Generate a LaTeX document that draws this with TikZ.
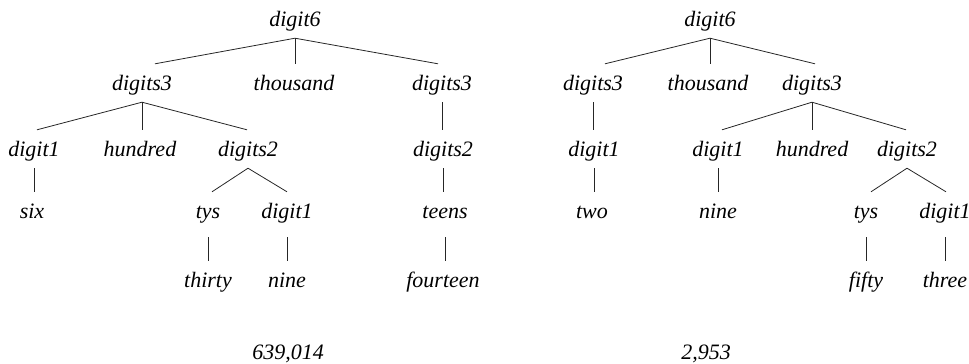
\documentclass[tikz,border=0pt]{standalone}
\usepackage{fontspec}
\setmainfont{Liberation Serif}
\tikzset{
  lbl/.style={anchor=base, inner sep=0pt, text height=26pt, text depth=12pt,
              font=\fontsize{22}{26}\selectfont\itshape},
  deep/.style={text depth=19pt},
  br/.style={line width=0.8pt, draw=black!85}
}
\newcommand{\vedge}[2]{\draw[br] (#1.south) -- (#1.south |- #2.north);}
\newcommand{\sedge}[3]{\draw[br] (#1.south) -- ([xshift=#3pt]#2.north);}
\begin{document}
\begin{tikzpicture}[x=1pt,y=-1pt]
\useasboundingbox (0,0) rectangle (969,364);
% ---------- left tree ----------
\node[lbl] (L) at (295,26) {digit6};
\node[lbl] (La) at (142,90) {digits3};
\node[lbl] (Lb) at (294,90) {thousand};
\node[lbl] (Lc) at (442,90) {digits3};
\node[lbl] (Laa) at (34,156) {digit1};
\node[lbl] (Lab) at (140,156) {hundred};
\node[lbl] (Lac) at (248,156) {digits2};
\node[lbl] (Lca) at (443,156) {digits2};
\node[lbl] (Laaa) at (32,218) {six};
\node[lbl,deep] (Laca) at (208,218) {tys};
\node[lbl,deep] (Lacb) at (287,218) {digit1};
\node[lbl,deep] (Lcaa) at (445,218) {teens};
\node[lbl] (Lacaa) at (208,287) {thirty};
\node[lbl] (Lacba) at (287,287) {nine};
\node[lbl] (Lcaaa) at (443,287) {fourteen};
\node[lbl] (Lnum) at (288,359) {639,014};
\sedge{L}{La}{13}
\vedge{L}{Lb}
\sedge{L}{Lc}{-4}
\sedge{La}{Laa}{3}
\vedge{La}{Lab}
\sedge{La}{Lac}{-1}
\vedge{Lc}{Lca}
\vedge{Laa}{Laaa}
\sedge{Lac}{Laca}{4}
\sedge{Lac}{Lacb}{0}
\vedge{Lca}{Lcaa}
\vedge{Laca}{Lacaa}
\vedge{Lacb}{Lacba}
\vedge{Lcaa}{Lcaaa}
% ---------- right tree ----------
\node[lbl] (R) at (710,26) {digit6};
\node[lbl] (Ra) at (593,90) {digits3};
\node[lbl] (Rb) at (708,90) {thousand};
\node[lbl] (Rc) at (812,90) {digits3};
\node[lbl] (Raa) at (594,156) {digit1};
\node[lbl] (Rca) at (718,156) {digit1};
\node[lbl] (Rcb) at (812,156) {hundred};
\node[lbl] (Rcc) at (907,156) {digits2};
\node[lbl] (Raaa) at (592,218) {two};
\node[lbl] (Rcaa) at (718,218) {nine};
\node[lbl,deep] (Rcca) at (866,218) {tys};
\node[lbl,deep] (Rccb) at (945,218) {digit1};
\node[lbl] (Rccaa) at (866,287) {fifty};
\node[lbl] (Rccba) at (945,287) {three};
\node[lbl] (Rnum) at (706,359) {2,953};
\sedge{R}{Ra}{12}
\vedge{R}{Rb}
\sedge{R}{Rc}{3}
\vedge{Ra}{Raa}
\sedge{Rc}{Rca}{4}
\vedge{Rc}{Rcb}
\sedge{Rc}{Rcc}{-1}
\vedge{Raa}{Raaa}
\vedge{Rca}{Rcaa}
\sedge{Rcc}{Rcca}{5}
\sedge{Rcc}{Rccb}{1}
\vedge{Rcca}{Rccaa}
\vedge{Rccb}{Rccba}
\end{tikzpicture}
\end{document}
